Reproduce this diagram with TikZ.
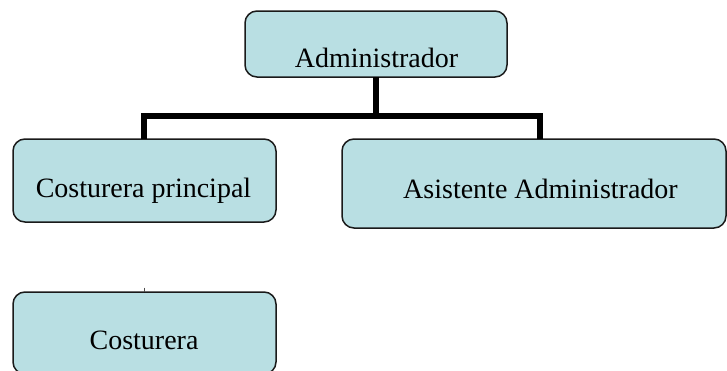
\documentclass[tikz,border=0pt]{standalone}
\usepackage{fontspec}
\setmainfont{Liberation Serif}
\definecolor{boxfill}{HTML}{B9DFE3}
\definecolor{boxline}{HTML}{1A1A1A}
\begin{document}
\begin{tikzpicture}[x=1pt,y=-1pt,
  orgbox/.style={draw=boxline,fill=boxfill,line width=1.5pt,rounded corners=12pt,inner sep=0pt,outer sep=0pt,anchor=north west},
  lbl/.style={anchor=base,font=\fontsize{28}{30}\selectfont,inner sep=0pt},
  conn/.style={draw=black,line width=6pt}]
\useasboundingbox (0,0) rectangle (727,370);
\node[orgbox,minimum width=262pt,minimum height=66pt] (adm) at (245,11) {};
\node[orgbox,minimum width=263pt,minimum height=83pt] (cp) at (13,139) {};
\node[orgbox,minimum width=384pt,minimum height=89pt] (asis) at (342,139) {};
\node[orgbox,minimum width=263pt,minimum height=82pt] (cost) at (13,292) {};
\node[lbl] (tadm) at (376.5,67) {Administrador};
\node[lbl] (tcp) at (143.5,197) {Costurera principal};
\node[lbl] (tasis) at (540.5,198) {Asistente Administrador};
\node[lbl] (tcost) at (144,349) {Costurera};
\coordinate (bar) at (376,115.5);
\coordinate (cptop) at (144,139);
\coordinate (astop) at (540,139);
\draw[conn] (adm.south -| bar) -- (bar);
\draw[conn] (cptop) |- (bar) -| (astop);
\coordinate (tick) at (144,287.5);
\coordinate (ticktop) at (144,292);
\draw[line width=1pt,black!70] (tick) -- (ticktop);
\end{tikzpicture}
\end{document}
